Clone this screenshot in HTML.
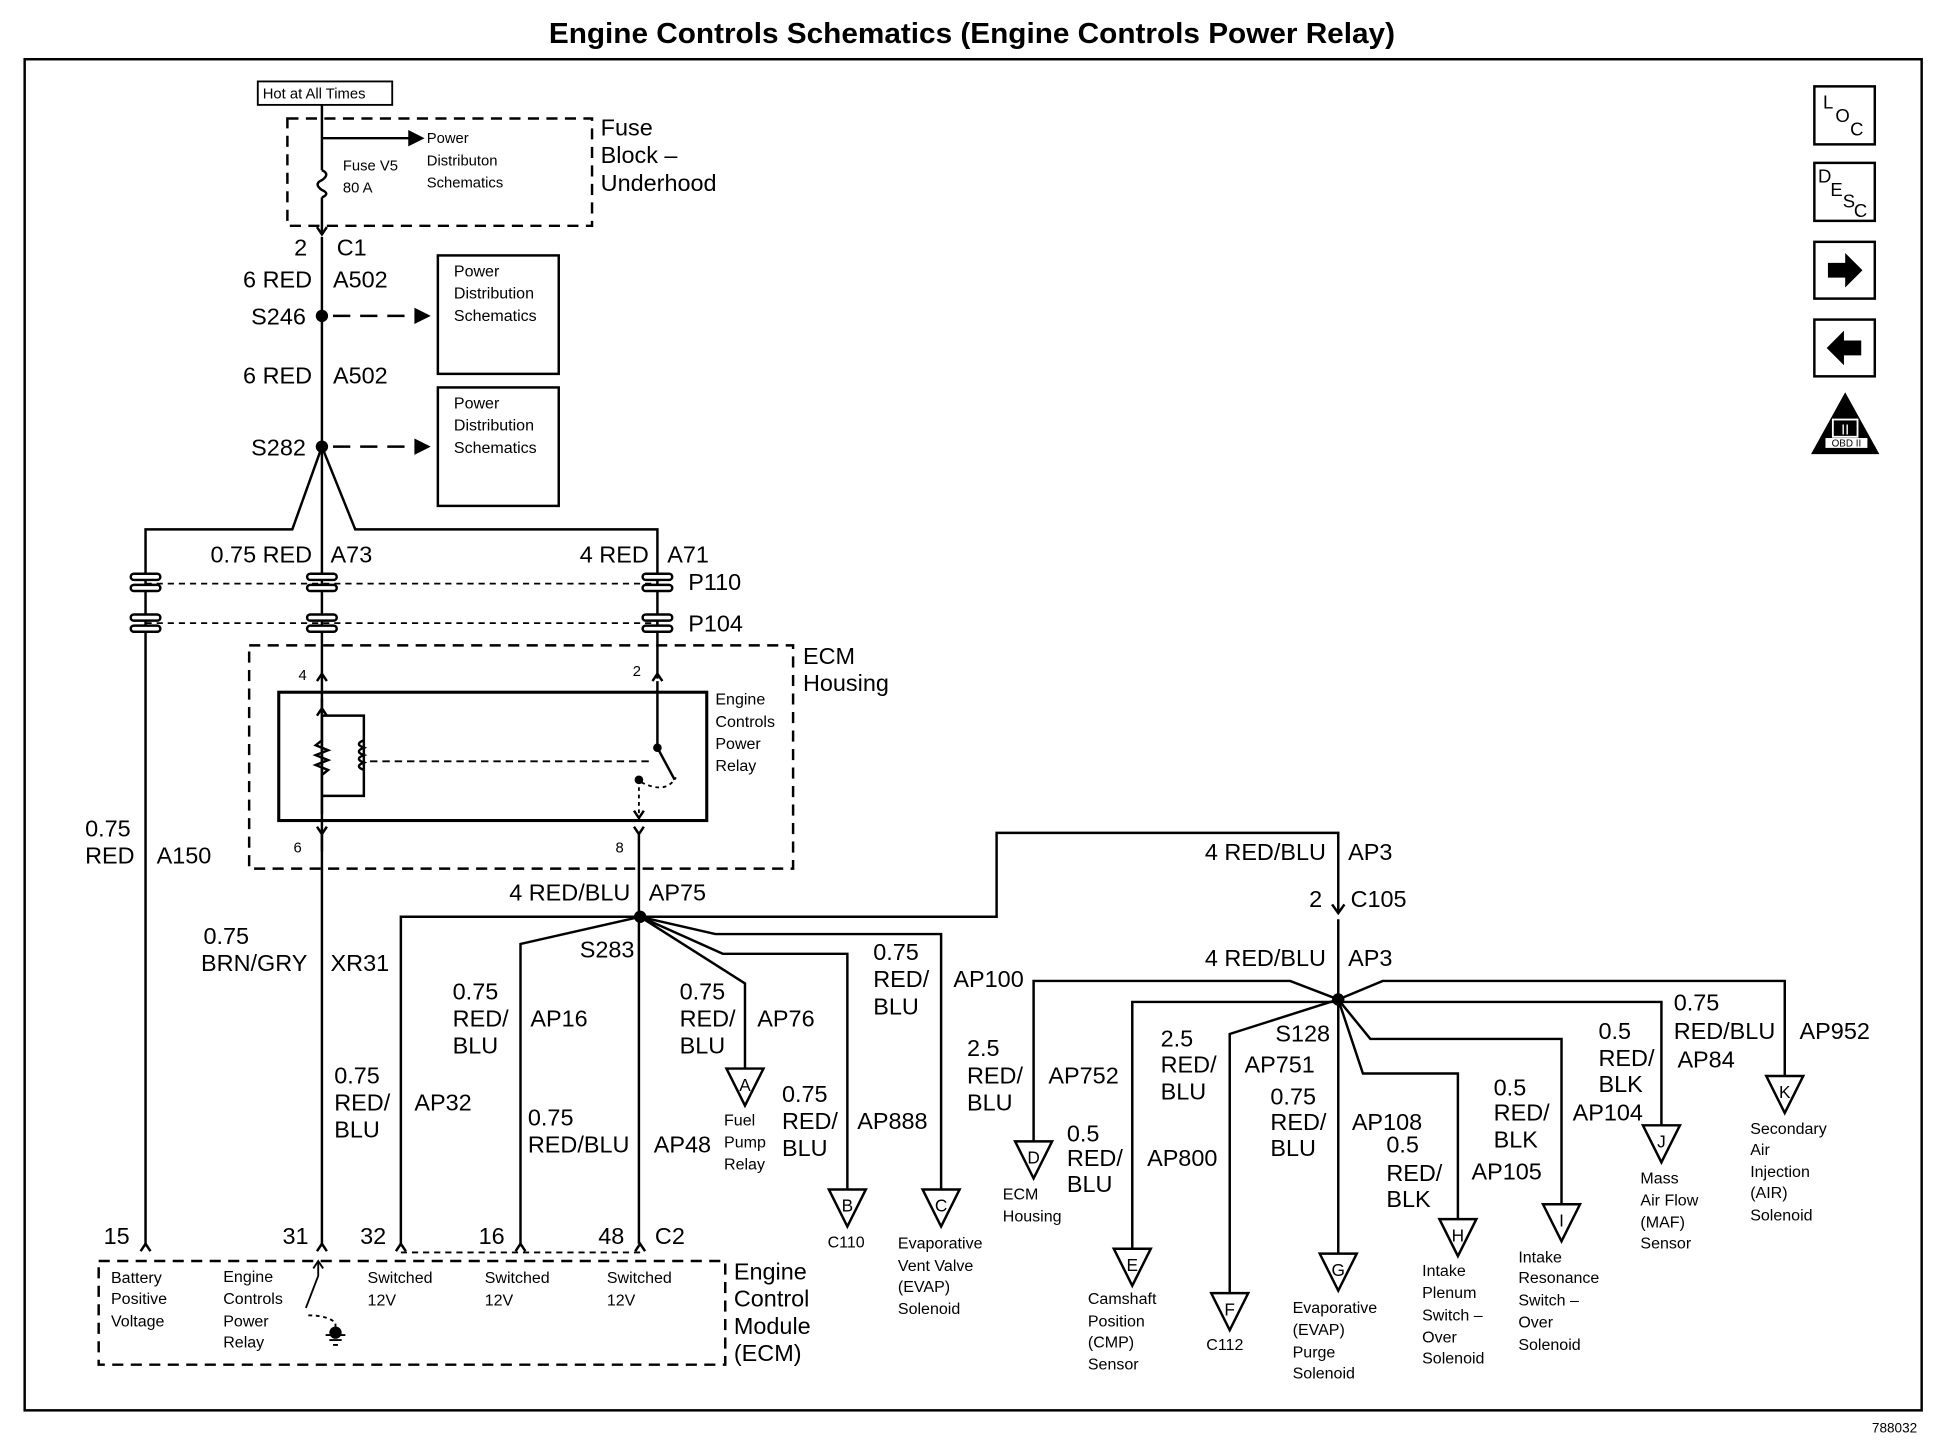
<!DOCTYPE html>
<html><head><meta charset="utf-8"><style>
html,body{margin:0;padding:0;background:#fff}
svg{display:block}
text{font-family:"Liberation Sans",Arial,sans-serif;fill:#000}
.l{font-size:19px}
.s{font-size:13px}
.t{font-size:12px}
</style></head><body>
<svg width="1934" height="1456" viewBox="0 0 1568 1180" preserveAspectRatio="none" xmlns="http://www.w3.org/2000/svg">
<g stroke="#000" fill="none" stroke-width="2">
<rect x="20" y="48" width="1538" height="1095"/>
<rect x="209" y="66" width="109" height="19" stroke-width="1.5"/>
<rect x="233" y="96" width="247" height="87" stroke-dasharray="9,6"/>
<path d="M261 85 V138 M261 160 V190"/>
<path d="M261 138 q7 3 0 8 q-7 3 0 8 q7 3 0 6"/>
<path d="M261 112 H332"/><path d="M332 107 L342 112 L332 117Z" fill="#000"/>
<path d="M257 184 L261 190 L265 184"/>
<path d="M261 192 V1008"/>
<path d="M270 256 H338" stroke-dasharray="14,8"/><path d="M337 251 L347 256 L337 261Z" fill="#000"/>
<path d="M270 362 H338" stroke-dasharray="14,8"/><path d="M337 357 L347 362 L337 367Z" fill="#000"/>
<rect x="355" y="207" width="98" height="96"/>
<rect x="355" y="314" width="98" height="96"/>
<path d="M261 362 L237 429 H118 V1008"/>
<path d="M261 362 L288 429 H533 V550"/>
<path d="M118 473 H533 M118 505 H533" stroke-dasharray="5,4" stroke-width="1.5"/>
<g fill="#fff">
<rect x="106" y="465" width="24" height="5" rx="2.5"/><rect x="106" y="474" width="24" height="5" rx="2.5"/>
<rect x="249" y="465" width="24" height="5" rx="2.5"/><rect x="249" y="474" width="24" height="5" rx="2.5"/>
<rect x="521" y="465" width="24" height="5" rx="2.5"/><rect x="521" y="474" width="24" height="5" rx="2.5"/>
<rect x="106" y="498" width="24" height="5" rx="2.5"/><rect x="106" y="507" width="24" height="5" rx="2.5"/>
<rect x="249" y="498" width="24" height="5" rx="2.5"/><rect x="249" y="507" width="24" height="5" rx="2.5"/>
<rect x="521" y="498" width="24" height="5" rx="2.5"/><rect x="521" y="507" width="24" height="5" rx="2.5"/>
</g>
<rect x="202" y="523" width="441" height="181" stroke-dasharray="9,6"/>
<path d="M257 552 L261 546 L265 552 M529 552 L533 546 L537 552"/>
<rect x="226" y="561" width="347" height="104" stroke-width="2.5"/>
<path d="M533 552 V561 M533 561 V606 L547 632"/>
<path d="M257 580 L261 574 L265 580 M514 657 L518 663 L522 657"/>
<path d="M261 566 V660 M261 580 H295 V645 H261"/>
<path d="M261 600 l-5 4 l10 4 l-10 4 l10 4 l-10 4 l10 4 l-5 4"/>
<path d="M295 600 q-8 3 0 6 q-8 3 0 6 q-8 3 0 6 q-8 3 0 6"/>
<path d="M300 617 H530" stroke-dasharray="6,4" stroke-width="1.5"/>
<path d="M518 632 V663 M520 634 q20 10 28 -4" stroke-dasharray="3,3" stroke-width="1.5"/>
<circle cx="533" cy="606" r="2.5" fill="#000"/><circle cx="518" cy="632" r="2.5" fill="#000"/>
<path d="M257 670 L261 676 L265 670 M514 670 L518 676 L522 670 M261 676 V690 M518 676 V1008"/>
<path d="M519 743 H325 V1008"/>
<path d="M519 743 L422 765 V1008"/>
<path d="M519 743 L604 797 V866"/>
<path d="M519 743 L586 773 H687 V964"/>
<path d="M519 743 L580 757 H763 V964"/>
<path d="M519 743 H808 V675 H1085 V740 M1085 745 V1016"/>
<path d="M1080 733 L1085 740 L1090 733"/>
<path d="M1085 810 L1046 795 H838 V925"/>
<path d="M1085 810 L1121 795 H1447 V872"/>
<path d="M918 1012 V812 H1347 V912"/>
<path d="M1085 810 L997 838 V1048"/>
<path d="M1085 810 L1111 842 H1266 V976"/>
<path d="M1085 810 L1105 870 H1182 V988"/>
<path d="M325 1015 H519" stroke-dasharray="5,4" stroke-width="1.5"/>
<path d="M114 1014 L118 1008 L122 1014 M257 1014 L261 1008 L265 1014 M321 1014 L325 1008 L329 1014 M418 1014 L422 1008 L426 1014 M515 1014 L519 1008 L523 1014"/>
<rect x="80" y="1022" width="508" height="84" stroke-dasharray="9,6"/>
<path d="M258 1022 V1034 L248 1060" stroke-width="1.5"/>
<path d="M254 1028 L258 1022 L262 1028" stroke-width="1.5"/>
<path d="M250 1066 q15 0 22 6 V1080" stroke-dasharray="3,3" stroke-width="1.5"/>
<path d="M264 1082 H280 M267 1086 H277 M270 1090 H274" stroke-width="1.5"/>
<circle cx="272" cy="1080" r="4" fill="#000"/>
<g stroke-width="2">
<path d="M589 866 H619 L604 896Z"/>
<path d="M672 964 H702 L687 994Z"/>
<path d="M748 964 H778 L763 994Z"/>
<path d="M823 925 H853 L838 955Z"/>
<path d="M903 1012 H933 L918 1042Z"/>
<path d="M982 1048 H1012 L997 1078Z"/>
<path d="M1070 1016 H1100 L1085 1046Z"/>
<path d="M1167 988 H1197 L1182 1018Z"/>
<path d="M1251 976 H1281 L1266 1006Z"/>
<path d="M1332 912 H1362 L1347 942Z"/>
<path d="M1432 872 H1462 L1447 902Z"/>
</g>
<rect x="1471" y="70" width="49" height="47"/>
<rect x="1471" y="132" width="49" height="47"/>
<rect x="1471" y="196" width="49" height="46"/>
<rect x="1471" y="259" width="49" height="46"/>
<path d="M1496 320 L1522 367 H1470Z" fill="#000"/>
</g>
<g fill="#000">
<circle cx="261" cy="256" r="5"/><circle cx="261" cy="362" r="5"/>
<circle cx="519" cy="743" r="5"/><circle cx="1085" cy="810" r="5"/>
<path d="M1482 213 H1496 V205 L1510 219 L1496 233 V225 H1482Z"/>
<path d="M1509 276 H1495 V268 L1481 282 L1495 296 V288 H1509Z"/>
</g>
<rect x="1486" y="340" width="20" height="14" fill="none" stroke="#fff" stroke-width="1.5"/>
<rect x="1480" y="355" width="34" height="8" fill="#fff"/>
<text x="1497" y="362" style="font-size:8px" text-anchor="middle">OBD II</text>
<text x="1496" y="352" style="font-size:12px;fill:#fff" text-anchor="middle">II</text>
<text x="1478" y="88" class="l" style="font-size:15px">L</text><text x="1488" y="99" style="font-size:15px">O</text><text x="1500" y="110" style="font-size:15px">C</text>
<text x="1474" y="148" style="font-size:15px">D</text><text x="1484" y="159" style="font-size:15px">E</text><text x="1494" y="168" style="font-size:15px">S</text><text x="1503" y="176" style="font-size:15px">C</text>

<text x="788" y="35" text-anchor="middle" style="font-size:23px;font-weight:bold" textLength="686" lengthAdjust="spacingAndGlyphs">Engine Controls Schematics (Engine Controls Power Relay)</text>
<text x="1536" y="1161" style="font-size:11px" text-anchor="middle">788032</text>
<text x="213" y="80" class="t">Hot at All Times</text>
<text x="278" y="138" class="t">Fuse V5</text><text x="278" y="156" class="t">80 A</text>
<text x="346" y="116" class="t">Power</text><text x="346" y="134" class="t">Distributon</text><text x="346" y="152" class="t">Schematics</text>
<text x="487" y="110" class="l">Fuse</text><text x="487" y="132" class="l">Block –</text><text x="487" y="155" class="l">Underhood</text>
<text x="368" y="224" class="s">Power</text><text x="368" y="242" class="s">Distribution</text><text x="368" y="260" class="s">Schematics</text>
<text x="368" y="331" class="s">Power</text><text x="368" y="349" class="s">Distribution</text><text x="368" y="367" class="s">Schematics</text>

<g class="l">
<text x="249" y="207" text-anchor="end">2</text><text x="273" y="207">C1</text>
<text x="253" y="233" text-anchor="end">6 RED</text><text x="270" y="233">A502</text>
<text x="248" y="263" text-anchor="end">S246</text>
<text x="253" y="311" text-anchor="end">6 RED</text><text x="270" y="311">A502</text>
<text x="248" y="369" text-anchor="end">S282</text>
<text x="253" y="456" text-anchor="end">0.75 RED</text><text x="268" y="456">A73</text>
<text x="526" y="456" text-anchor="end">4 RED</text><text x="541" y="456">A71</text>
<text x="558" y="478">P110</text><text x="558" y="512">P104</text>
<text x="651" y="538">ECM</text><text x="651" y="560">Housing</text>
<text x="69" y="678">0.75</text><text x="69" y="700">RED</text><text x="127" y="700">A150</text>
<text x="165" y="765">0.75</text><text x="163" y="787">BRN/GRY</text><text x="268" y="787">XR31</text>
<text x="511" y="730" text-anchor="end">4 RED/BLU</text><text x="526" y="730">AP75</text>
<text x="470" y="776">S283</text>
<text x="367" y="810">0.75</text><text x="367" y="832">RED/</text><text x="367" y="854">BLU</text><text x="430" y="832">AP16</text>
<text x="551" y="810">0.75</text><text x="551" y="832">RED/</text><text x="551" y="854">BLU</text><text x="614" y="832">AP76</text>
<text x="708" y="778">0.75</text><text x="708" y="800">RED/</text><text x="708" y="822">BLU</text><text x="773" y="800">AP100</text>
<text x="271" y="878">0.75</text><text x="271" y="900">RED/</text><text x="271" y="922">BLU</text><text x="336" y="900">AP32</text>
<text x="428" y="912">0.75</text><text x="428" y="934">RED/BLU</text><text x="530" y="934">AP48</text>
<text x="634" y="893">0.75</text><text x="634" y="915">RED/</text><text x="634" y="937">BLU</text><text x="695" y="915">AP888</text>
<text x="1075" y="697" text-anchor="end">4 RED/BLU</text><text x="1093" y="697">AP3</text>
<text x="1072" y="735" text-anchor="end">2</text><text x="1095" y="735">C105</text>
<text x="1075" y="783" text-anchor="end">4 RED/BLU</text><text x="1093" y="783">AP3</text>
<text x="784" y="856">2.5</text><text x="784" y="878">RED/</text><text x="784" y="900">BLU</text><text x="850" y="878">AP752</text>
<text x="865" y="925">0.5</text><text x="865" y="945">RED/</text><text x="865" y="966">BLU</text><text x="930" y="945">AP800</text>
<text x="941" y="848">2.5</text><text x="941" y="869">RED/</text><text x="941" y="891">BLU</text><text x="1009" y="869">AP751</text>
<text x="1034" y="844">S128</text>
<text x="1030" y="895">0.75</text><text x="1030" y="916">RED/</text><text x="1030" y="937">BLU</text><text x="1096" y="916">AP108</text>
<text x="1124" y="934">0.5</text><text x="1124" y="957">RED/</text><text x="1124" y="978">BLK</text>
<text x="1211" y="888">0.5</text><text x="1211" y="908">RED/</text><text x="1211" y="930">BLK</text><text x="1193" y="956">AP105</text>
<text x="1296" y="842">0.5</text><text x="1296" y="864">RED/</text><text x="1296" y="885">BLK</text><text x="1275" y="908">AP104</text>
<text x="1357" y="819">0.75</text><text x="1357" y="842">RED/BLU</text><text x="1459" y="842">AP952</text><text x="1360" y="865">AP84</text>
<text x="84" y="1008">15</text><text x="229" y="1008">31</text><text x="292" y="1008">32</text><text x="388" y="1008">16</text><text x="485" y="1008">48</text><text x="531" y="1008">C2</text>
<text x="595" y="1037">Engine</text><text x="595" y="1059">Control</text><text x="595" y="1081">Module</text><text x="595" y="1103">(ECM)</text>
</g>
<g class="s">
<text x="580" y="571">Engine</text><text x="580" y="589">Controls</text><text x="580" y="607">Power</text><text x="580" y="625">Relay</text>
<text x="242" y="551" class="t">4</text><text x="513" y="548" class="t">2</text>
<text x="238" y="691" class="t">6</text><text x="499" y="691" class="t">8</text>
<text x="587" y="912">Fuel</text><text x="587" y="930">Pump</text><text x="587" y="948">Relay</text>
<text x="671" y="1011">C110</text>
<text x="728" y="1012">Evaporative</text><text x="728" y="1030">Vent Valve</text><text x="728" y="1047">(EVAP)</text><text x="728" y="1065">Solenoid</text>
<text x="813" y="972">ECM</text><text x="813" y="990">Housing</text>
<text x="882" y="1057">Camshaft</text><text x="882" y="1075">Position</text><text x="882" y="1092">(CMP)</text><text x="882" y="1110">Sensor</text>
<text x="978" y="1094">C112</text>
<text x="1048" y="1064">Evaporative</text><text x="1048" y="1082">(EVAP)</text><text x="1048" y="1100">Purge</text><text x="1048" y="1117">Solenoid</text>
<text x="1153" y="1034">Intake</text><text x="1153" y="1052">Plenum</text><text x="1153" y="1070">Switch –</text><text x="1153" y="1088">Over</text><text x="1153" y="1105">Solenoid</text>
<text x="1231" y="1023">Intake</text><text x="1231" y="1040">Resonance</text><text x="1231" y="1058">Switch –</text><text x="1231" y="1076">Over</text><text x="1231" y="1094">Solenoid</text>
<text x="1330" y="959">Mass</text><text x="1330" y="977">Air Flow</text><text x="1330" y="995">(MAF)</text><text x="1330" y="1012">Sensor</text>
<text x="1419" y="919">Secondary</text><text x="1419" y="936">Air</text><text x="1419" y="954">Injection</text><text x="1419" y="971">(AIR)</text><text x="1419" y="989">Solenoid</text>
<text x="90" y="1040">Battery</text><text x="90" y="1057">Positive</text><text x="90" y="1075">Voltage</text>
<text x="181" y="1039">Engine</text><text x="181" y="1057">Controls</text><text x="181" y="1075">Power</text><text x="181" y="1092">Relay</text>
<text x="298" y="1040">Switched</text><text x="298" y="1058">12V</text>
<text x="393" y="1040">Switched</text><text x="393" y="1058">12V</text>
<text x="492" y="1040">Switched</text><text x="492" y="1058">12V</text>
</g>
<g style="font-size:14px" text-anchor="middle">
<text x="604" y="884">A</text><text x="687" y="982">B</text><text x="763" y="982">C</text><text x="838" y="943">D</text>
<text x="918" y="1030">E</text><text x="997" y="1066">F</text><text x="1085" y="1034">G</text><text x="1182" y="1006">H</text>
<text x="1266" y="994">I</text><text x="1347" y="930">J</text><text x="1447" y="890">K</text>
</g>
</svg>
</body></html>
